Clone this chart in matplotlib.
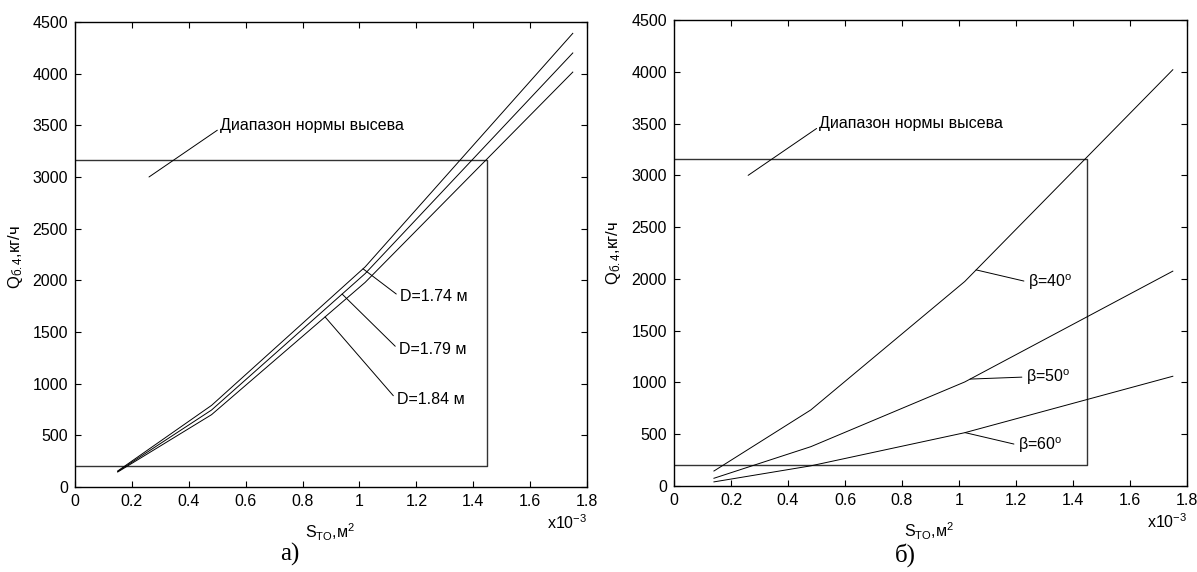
import numpy as np
import matplotlib
matplotlib.use("Agg")
import matplotlib.pyplot as plt

plt.rcParams.update({
    "font.family": ["Liberation Sans", "DejaVu Sans"],
    "font.size": 11.5,
    "mathtext.fontset": "custom",
    "mathtext.rm": "Liberation Sans",
    "mathtext.it": "Liberation Sans:italic",
    "mathtext.bf": "Liberation Sans:bold",
})

# площадь отверстия, x10^-3 м2
s_d = [0.15, 0.48, 1.02, 1.75]
q_d174 = [155, 790, 2130, 4390]
q_d179 = [150, 745, 2065, 4200]
q_d184 = [145, 700, 1980, 4015]
d_labels = ["D=1.74 м", "D=1.79 м", "D=1.84 м"]

s_b = [0.14, 0.48, 1.02, 1.75]
q_b40 = [145, 735, 1975, 4020]
q_b50 = [75, 380, 1005, 2075]
q_b60 = [40, 195, 515, 1060]
b_labels = [r"β=40$^{\mathrm{o}}$", r"β=50$^{\mathrm{o}}$", r"β=60$^{\mathrm{o}}$"]

# диапазон нормы высева
s_norm = 1.45
q_norm = [200, 3160]

xticks = np.arange(0, 1.81, 0.2)
xticklabels = ["0", "0.2", "0.4", "0.6", "0.8", "1", "1.2", "1.4", "1.6", "1.8"]
yticks = np.arange(0, 4501, 500)


def setup(ax, ylab_x, ylab_y):
    ax.set_xlim(0, 1.8)
    ax.set_ylim(0, 4500)
    ax.set_xticks(xticks)
    ax.set_xticklabels(xticklabels)
    ax.set_yticks(yticks)
    ax.tick_params(direction="in", length=4, width=0.8, top=True, right=True,
                   labelsize=11.5, pad=5)
    for sp in ax.spines.values():
        sp.set_linewidth(1.0)
    ax.set_ylabel(r"Q$_{\mathrm{б.4}}$,кг/ч", fontsize=12)
    ax.yaxis.set_label_coords(ylab_x, ylab_y)
    ax.set_xlabel(r"S$_{\mathrm{TO}}$,м$^2$", fontsize=11.5)
    ax.xaxis.set_label_coords(0.498, -0.074)
    ax.text(1.0, -0.077, r"x10$^{-3}$", transform=ax.transAxes,
            ha="right", va="center", fontsize=11.5)
    # рамка диапазона
    ax.plot([0, s_norm, s_norm, 0], [q_norm[1], q_norm[1], q_norm[0], q_norm[0]],
            color="#333333", lw=1.0)
    ax.annotate("Диапазон нормы высева", xy=(0.26, 3000), xytext=(0.51, 3500),
                ha="left", va="center", fontsize=11.5,
                arrowprops=dict(arrowstyle="-", lw=0.7, color="k",
                                relpos=(0, 0.3), shrinkA=0, shrinkB=0))


fig = plt.figure(figsize=(11.97, 5.72), dpi=100)
ax1 = fig.add_axes([0.0627, 0.1486, 0.4277, 0.813])
ax2 = fig.add_axes([0.5631, 0.1503, 0.4286, 0.8147])

setup(ax1, -0.098, 0.495)
setup(ax2, -0.100, 0.50)

# а) разные диаметры
d_curves = [q_d174, q_d179, q_d184]
d_anchor = [1.0125, 0.939, 0.879]
d_text = [(1.143, 1839), (1.139, 1326), (1.132, 842)]
for q, sa, pos, lab in zip(d_curves, d_anchor, d_text, d_labels):
    ax1.plot(s_d, q, color="k", lw=0.7)
    ax1.annotate(lab, xy=(sa, np.interp(sa, s_d, q)), xytext=pos,
                 ha="left", va="center", fontsize=11.5,
                 arrowprops=dict(arrowstyle="-", lw=0.7, color="k",
                                 relpos=(0, 0.5), shrinkA=1, shrinkB=0))

# б) разные углы
b_curves = [q_b40, q_b50, q_b60]
b_anchor = [1.06, 1.039, 1.021]
b_text = [(1.242, 1970), (1.235, 1053), (1.207, 396)]
for q, sa, pos, lab in zip(b_curves, b_anchor, b_text, b_labels):
    ax2.plot(s_b, q, color="k", lw=0.7)
    ax2.annotate(lab, xy=(sa, np.interp(sa, s_b, q)), xytext=pos,
                 ha="left", va="center", fontsize=11.5,
                 arrowprops=dict(arrowstyle="-", lw=0.7, color="k",
                                 relpos=(0, 0.5), shrinkA=1, shrinkB=0))

fig.text(0.242, 0.03, "а)", family="Liberation Serif", fontsize=18,
         ha="center", va="center")
fig.text(0.756, 0.03, "б)", family="Liberation Serif", fontsize=18,
         ha="center", va="center")

fig.savefig("out.png", dpi=100)
